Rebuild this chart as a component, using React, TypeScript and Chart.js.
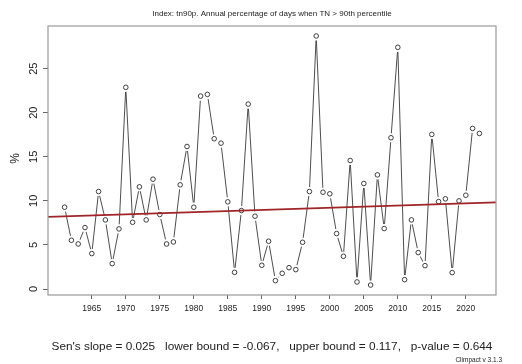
import { useEffect, useRef } from "react";
import { Chart, registerables } from "chart.js";

Chart.register(...registerables);

// Annual tn90p values (% of days when TN > 90th percentile)
const years: number[] = [
  1961, 1962, 1963, 1964, 1965, 1966, 1967, 1968, 1969, 1970,
  1971, 1972, 1973, 1974, 1975, 1976, 1977, 1978, 1979, 1980,
  1981, 1982, 1983, 1984, 1985, 1986, 1987, 1988, 1989, 1990,
  1991, 1992, 1993, 1994, 1995, 1996, 1997, 1998, 1999, 2000,
  2001, 2002, 2003, 2004, 2005, 2006, 2007, 2008, 2009, 2010,
  2011, 2012, 2013, 2014, 2015, 2016, 2017, 2018, 2019, 2020,
  2021, 2022,
];

const tn90p: number[] = [
  9.28, 5.53, 5.11, 6.97, 4.02, 11.06, 7.84, 2.88, 6.82, 22.88,
  7.57, 11.59, 7.84, 12.46, 8.45, 5.11, 5.34, 11.82, 16.17, 9.28,
  21.89, 22.08, 17.05, 16.55, 9.89, 1.89, 8.9, 20.98, 8.26, 2.69,
  5.42, 0.95, 1.78, 2.42, 2.2, 5.3, 11.06, 28.71, 10.98, 10.8,
  6.29, 3.71, 14.58, 0.8, 11.97, 0.45, 12.95, 6.86, 17.16, 27.42,
  1.06, 7.84, 4.13, 2.65, 17.54, 9.92, 10.23, 1.86, 10.0, 10.64,
  18.22, 17.65,
];

const xTickYears: number[] = [1965, 1970, 1975, 1980, 1985, 1990, 1995, 2000, 2005, 2010, 2015, 2020];
const yTickValues: number[] = [0, 5, 10, 15, 20, 25];

// Sen's slope trend: value at the first year plus slope per year
const senSlope = 0.025;
const trendStart = 8.24;

const titleText = "Index: tn90p. Annual percentage of days when TN > 90th percentile";
const yAxisTitle = "%";
const statsText = "Sen's slope = 0.025   lower bound = -0.067,   upper bound = 0.117,   p-value = 0.644";
const versionText = "Climpact v 3.1.3";

const FONT = "'Liberation Sans', Arial, Helvetica, sans-serif";

export default function App() {
  const canvasRef = useRef<HTMLCanvasElement | null>(null);

  useEffect(() => {
    const canvas = canvasRef.current;
    if (!canvas) return;

    // R-style 4% padding around the data range
    const xSpan = years[years.length - 1] - years[0];
    const xMin = years[0] - 0.04 * xSpan;
    const xMax = years[years.length - 1] + 0.04 * xSpan;
    const yLo = Math.min(...tn90p);
    const yHi = Math.max(...tn90p);
    const yMin = yLo - 0.04 * (yHi - yLo);
    const yMax = yHi + 0.04 * (yHi - yLo);

    const points = years.map((yr, i) => ({ x: yr, y: tn90p[i] }));
    const trendAt = (x: number) => trendStart + senSlope * (x - years[0]);
    const trend = [
      { x: xMin, y: trendAt(xMin) },
      { x: xMax, y: trendAt(xMax) },
    ];

    const decorations = {
      id: "decorations",
      afterDraw(chart: any) {
        const { ctx, chartArea: a, scales } = chart;
        ctx.save();
        // plot frame
        ctx.strokeStyle = "#9a9a9a";
        ctx.lineWidth = 1.2;
        ctx.strokeRect(a.left, a.top, a.right - a.left, a.bottom - a.top);

        ctx.fillStyle = "#222";
        ctx.textAlign = "center";
        ctx.textBaseline = "middle";
        const cx = (a.left + a.right) / 2;

        // title
        ctx.font = `8px ${FONT}`;
        ctx.fillText(titleText, cx, 13.5);

        // rotated y tick labels
        ctx.font = `11px ${FONT}`;
        for (const v of yTickValues) {
          const py = scales.y.getPixelForValue(v);
          ctx.save();
          ctx.translate(34, py);
          ctx.rotate(-Math.PI / 2);
          ctx.fillText(String(v), 0, 0);
          ctx.restore();
        }

        // y axis title
        ctx.save();
        ctx.font = `12px ${FONT}`;
        ctx.translate(16, (a.top + a.bottom) / 2 - 2);
        ctx.rotate(-Math.PI / 2);
        ctx.fillText(yAxisTitle, 0, 0);
        ctx.restore();

        // trend statistics
        ctx.font = `11.8px ${FONT}`;
        ctx.fillText(statsText, cx, 347);

        // version tag
        ctx.font = `6.5px ${FONT}`;
        ctx.textAlign = "right";
        ctx.fillText(versionText, 502, 360);
        ctx.restore();
      },
    };

    const chart = new Chart(canvas, {
      type: "line",
      data: {
        datasets: [
          {
            label: "trend",
            data: trend,
            borderColor: "#a02428",
            borderWidth: 1.8,
            pointRadius: 0,
            order: 0,
          },
          {
            label: "markers",
            data: points,
            showLine: false,
            pointRadius: 2.3,
            pointBorderWidth: 0.9,
            pointBorderColor: "#2a2a2a",
            pointBackgroundColor: "rgba(255,255,255,0)",
            order: 1,
          },
          {
            label: "gaps",
            data: points,
            showLine: false,
            pointRadius: 4.6,
            pointBorderWidth: 0,
            pointBackgroundColor: "#ffffff",
            pointBorderColor: "#ffffff",
            order: 2,
          },
          {
            label: "series",
            data: points,
            borderColor: "#3a3a3a",
            borderWidth: 0.9,
            pointRadius: 0,
            tension: 0,
            order: 3,
          },
        ],
      },
      options: {
        responsive: false,
        animation: false,
        devicePixelRatio: 1,
        layout: { padding: { top: 26, left: 0, right: 26, bottom: 47 } },
        plugins: {
          legend: { display: false },
          tooltip: { enabled: false },
          title: { display: false },
        },
        scales: {
          x: {
            type: "linear",
            min: xMin,
            max: xMax,
            afterBuildTicks: (scale: any) => {
              scale.ticks = xTickYears.map((v) => ({ value: v }));
            },
            afterFit: (scale: any) => {
              scale.height = 22;
            },
            border: { display: false },
            grid: {
              display: true,
              drawOnChartArea: false,
              drawTicks: true,
              tickLength: 4,
              color: "#666",
              lineWidth: 1,
            },
            ticks: {
              color: "#222",
              font: { family: FONT, size: 8.5 },
              padding: 5,
              maxRotation: 0,
              minRotation: 0,
              autoSkip: false,
              callback: (v: any) => String(v),
            },
          },
          y: {
            type: "linear",
            min: yMin,
            max: yMax,
            afterBuildTicks: (scale: any) => {
              scale.ticks = yTickValues.map((v) => ({ value: v }));
            },
            afterFit: (scale: any) => {
              scale.width = 48;
            },
            border: { display: false },
            grid: {
              display: true,
              drawOnChartArea: false,
              drawTicks: true,
              tickLength: 5,
              color: "#666",
              lineWidth: 1,
            },
            ticks: {
              color: "rgba(0,0,0,0)",
              font: { family: FONT, size: 11 },
              autoSkip: false,
            },
          },
        },
      },
      plugins: [decorations],
    });

    return () => chart.destroy();
  }, []);

  return (
    <div style={{ position: "absolute", left: 0, top: 0, width: 522, height: 364, background: "#fff" }}>
      <canvas ref={canvasRef} width={522} height={364} />
    </div>
  );
}
